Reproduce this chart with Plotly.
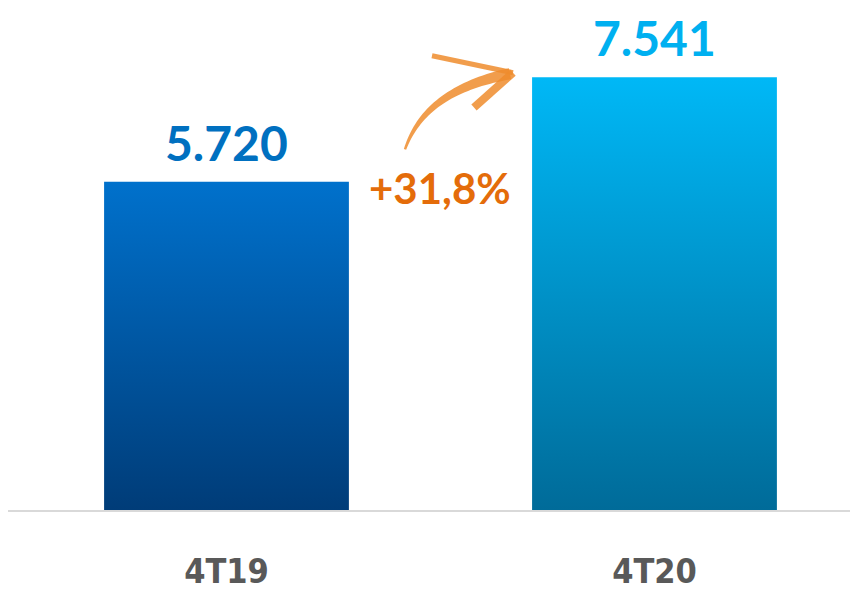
import numpy as np
import plotly.graph_objects as go

categories = ["4T19", "4T20"]
values = [5720, 7541]
label_colors = ["#0070C0", "#00B0F0"]
top_colors = ["#0071CC", "#00B8F6"]
bottom_colors = ["#003C78", "#006B99"]
growth_label = "+31,8%"

W, H = 850, 591
ML, MR, MT, MB = 8, 0, 0, 79
PW, PH = W - ML - MR, H - MT - MB

bar_width = 0.572
x_range = [-0.5105, 1.4568]
y_range = [0, 8888]

fig = go.Figure()

for i, (cat, v) in enumerate(zip(categories, values)):
    x0, x1 = i - bar_width / 2, i + bar_width / 2
    fig.add_trace(go.Scatter(
        x=[x0, x1, x1, x0, x0], y=[0, 0, v, v, 0],
        mode="lines", line=dict(width=0), fill="toself",
        fillgradient=dict(type="vertical",
                          colorscale=[[0, bottom_colors[i]], [1, top_colors[i]]]),
        hoverinfo="skip", showlegend=False,
    ))
    fig.add_annotation(
        x=i, y=v, yanchor="bottom", yshift=9, showarrow=False,
        text=f"{v:,}".replace(",", "."),
        font=dict(family="Lato, sans-serif", size=48, color=label_colors[i], weight="bold"),
    )

# growth label
fig.add_annotation(
    xref="paper", yref="paper",
    x=(440 - ML) / PW, y=(512 - 189) / PH,
    text=growth_label, showarrow=False,
    font=dict(family="Lato, sans-serif", size=42, color="#E46C0A", weight="bold"),
)

# brush arrow (decoration), pixel -> paper
def to_paper(px, py):
    return (px - ML) / PW, (512 - py) / PH

def bez(p0, p1, p2, p3, t):
    t = t[:, None]
    return ((1 - t) ** 3) * p0 + 3 * ((1 - t) ** 2) * t * p1 + 3 * (1 - t) * t ** 2 * p2 + t ** 3 * p3

t = np.linspace(0, 1, 40)
P = bez(np.array([405, 150.0]), np.array([418, 112.0]), np.array([450, 86.0]), np.array([510, 74.0]), t)
d = np.gradient(P, axis=0)
n = np.stack([-d[:, 1], d[:, 0]], axis=1)
n /= np.linalg.norm(n, axis=1, keepdims=True)
wdt = (1.2 + 4.5 * t)[:, None]
left = P + n * wdt
right = P - n * wdt
poly = np.vstack([left, right[::-1]])
path = "M " + " L ".join(f"{a:.5f},{b:.5f}" for a, b in (to_paper(*p) for p in poly)) + " Z"
arrow_color = "rgba(238,140,45,0.85)"
fig.add_shape(type="path", xref="paper", yref="paper", path=path,
              fillcolor=arrow_color, line=dict(width=0), layer="above")
# arrow head barbs
for (a, b, w) in [((432, 56), (513, 73), 5), ((513, 73), (474, 108), 8)]:
    xa, ya = to_paper(*a)
    xb, yb = to_paper(*b)
    fig.add_shape(type="line", xref="paper", yref="paper", x0=xa, y0=ya, x1=xb, y1=yb,
                  line=dict(color=arrow_color, width=w), layer="above")

fig.update_layout(
    width=W, height=H,
    margin=dict(l=ML, r=MR, t=MT, b=MB),
    paper_bgcolor="white", plot_bgcolor="white",
    showlegend=False,
    xaxis=dict(range=x_range, tickvals=list(range(len(categories))), ticktext=categories,
               showgrid=False, zeroline=False, showline=True, linecolor="#D9D9D9", linewidth=2,
               ticks="", ticklabelstandoff=30,
               tickfont=dict(family="Liberation Sans Narrow, DejaVu Sans Condensed, Lato, sans-serif",
                             size=34, color="#595959", weight="bold"),
               fixedrange=True),
    yaxis=dict(range=y_range, visible=False, fixedrange=True),
)

fig.write_html("out.html", config={"displayModeBar": False},
               post_script="document.body.style.margin='0';document.body.style.overflow='hidden';")
